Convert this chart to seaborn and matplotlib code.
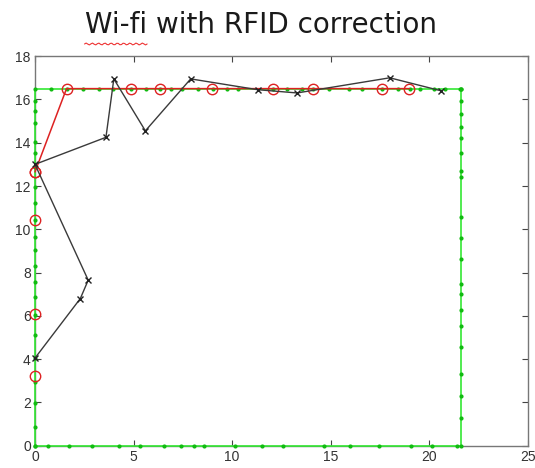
import numpy as np
import pandas as pd
import seaborn as sns
import matplotlib.pyplot as plt
from matplotlib.lines import Line2D

# reference path (green): along the bottom, up the right side, back along the top, down the left side
green_x = [0, 0.64, 1.73, 2.91, 4.26, 5.33, 6.53, 7.41, 8.09, 8.56, 10.15, 11.5, 12.6, 14.64, 15.99, 17.43,
           19.07, 20.12, 21.4, 21.6,
           21.6, 21.6, 21.6, 21.6, 21.6, 21.6, 21.6, 21.6, 21.6, 21.6, 21.6, 21.6, 21.6, 21.6, 21.6, 21.6,
           21.6, 21.6, 21.6, 21.6,
           21.57, 20.81, 20.22, 19.54, 19.04, 18.44, 17.6, 16.58, 15.91, 14.94, 14.1, 13.54, 12.78, 12.1,
           10.3, 9.73, 9.02, 8.29, 7.48, 6.9, 6.35, 5.62, 4.86, 3.97, 3.27, 2.42, 1.61, 0.8, 0,
           0, 0, 0, 0, 0, 0, 0, 0, 0, 0, 0, 0, 0, 0, 0, 0, 0, 0, 0, 0, 0]
green_y = [0, 0, 0, 0, 0, 0, 0, 0, 0, 0, 0, 0, 0, 0, 0, 0,
           0, 0, 0, 0,
           1.27, 2.31, 3.3, 4.57, 5.51, 6.25, 6.99, 7.45, 8.62, 9.61, 10.58, 12.42, 12.7, 13.53, 14.22, 14.71,
           15.34, 15.94, 16.48, 16.5,
           16.5, 16.5, 16.5, 16.5, 16.5, 16.5, 16.5, 16.5, 16.5, 16.5, 16.5, 16.5, 16.5, 16.5,
           16.5, 16.5, 16.5, 16.5, 16.5, 16.5, 16.5, 16.5, 16.5, 16.5, 16.5, 16.5, 16.5, 16.5, 16.5,
           15.92, 15.46, 14.89, 14.04, 13.51, 12.89, 11.94, 11.2, 10.42, 9.65, 9.04, 8.31, 7.55, 6.88,
           6.04, 5.11, 4.04, 2.96, 1.96, 0.88, 0]

# RFID corrected positions (red)
red_x = [0, 0, 0, 0, 1.6, 4.85, 6.35, 9.0, 12.1, 14.1, 17.6, 19.0]
red_y = [3.2, 6.1, 10.45, 12.65, 16.5, 16.5, 16.5, 16.5, 16.5, 16.5, 16.5, 16.5]

# raw wi-fi estimates (black)
wifi_x = [0, 2.3, 2.7, 0, 3.6, 4.0, 5.6, 7.9, 11.3, 13.3, 18.0, 20.6]
wifi_y = [4.05, 6.8, 7.65, 13.0, 14.25, 16.95, 14.55, 16.95, 16.45, 16.3, 17.0, 16.4]

sns.set_style("white")
plt.rcParams['font.family'] = ['Liberation Sans', 'DejaVu Sans']

fig = plt.figure(figsize=(5.35, 4.68), dpi=100)
ax = fig.add_axes([0.0654, 0.0476, 0.9210, 0.8324])

sns.lineplot(x=green_x, y=green_y, sort=False, estimator=None, color='#33e833', lw=1.2,
             marker='.', markersize=6, markeredgewidth=0, markerfacecolor='#11bb11',
             clip_on=False, zorder=3, ax=ax)

# red: first points sit on the y axis as markers only, the rest is joined
ax.plot(red_x[:4], red_y[:4], ls='none', marker='o', markersize=7.5, markerfacecolor='none',
        markeredgecolor='#dd2222', markeredgewidth=1.0, clip_on=False, zorder=4)
sns.lineplot(x=red_x[3:], y=red_y[3:], sort=False, estimator=None, color='#dd2222', lw=1.1,
             marker='o', markersize=7.5, markerfacecolor='none', markeredgecolor='#dd2222',
             markeredgewidth=1.0, clip_on=False, zorder=4, ax=ax)

sns.lineplot(x=wifi_x, y=wifi_y, sort=False, estimator=None, color='#3a3a3a', lw=1.0,
             marker='x', markersize=5, markeredgecolor='#222222', markeredgewidth=1.0,
             clip_on=False, zorder=5, ax=ax)

ax.set_xlim(0, 25)
ax.set_ylim(0, 18)
ax.set_xticks(np.arange(0, 26, 5))
ax.set_yticks(np.arange(0, 19, 2))
ax.tick_params(direction='in', length=4, width=0.8, color='#444444', labelsize=10,
               labelcolor='#333333', top=True, right=True, bottom=True, left=True, pad=3)
for s in ax.spines.values():
    s.set_color('#777777')
    s.set_linewidth(1.0)

fig.text(0.488, 0.947, "Wi-fi with RFID correction", ha='center', va='center',
         fontsize=20, color='#1a1a1a', family=['DejaVu Sans'])

# spell-check squiggle under "Wi-fi"
wx = np.linspace(0.158, 0.275, 40)
wy = 0.906 + 0.002 * np.sin(np.linspace(0, 40 * np.pi / 2, 40))
fig.add_artist(Line2D(wx, wy, color='#ee3333', lw=0.8, transform=fig.transFigure))

fig.savefig('out.png', dpi=100)
